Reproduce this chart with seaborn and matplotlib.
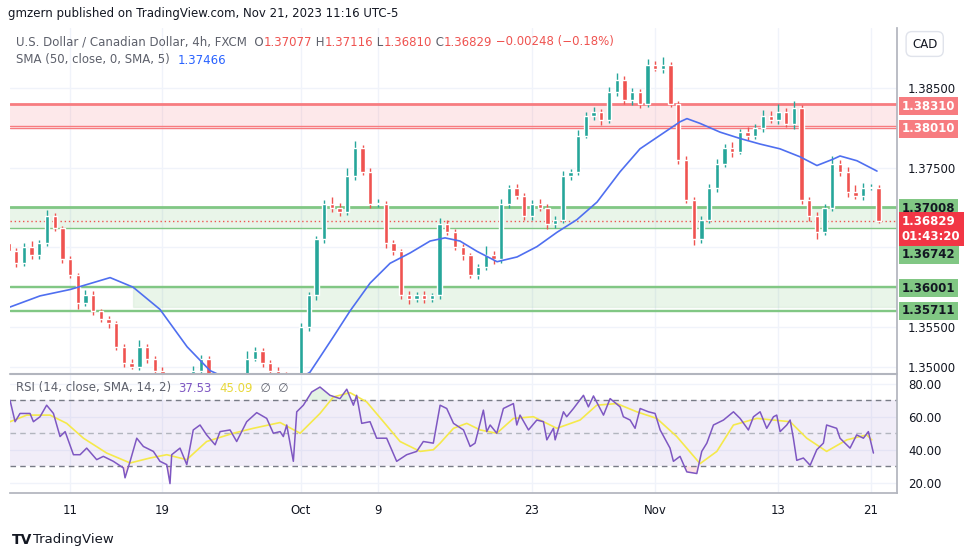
import numpy as np
import pandas as pd
import seaborn as sns
import matplotlib
matplotlib.use("Agg")
import matplotlib.pyplot as plt
from matplotlib.patches import Rectangle
from matplotlib.text import Annotation

# ---------------- data ----------------
# candle positions: trading-day index (Sep 11 = 0), two candles per day
candle_start = -4.0
closes = [1.3645,1.3630,1.3650,1.3640,1.3655,1.3690,1.3675,1.3635,1.3615,1.3580,
          1.3590,1.3570,1.3560,1.3555,1.3525,1.3505,1.3500,1.3525,1.3510,1.3495,
          1.3480,1.3470,1.3475,1.3480,1.3495,1.3510,1.3485,1.3470,1.3465,1.3475,
          1.3480,1.3510,1.3520,1.3505,1.3495,1.3490,1.3480,1.3485,1.3550,1.3590,
          1.3660,1.3705,1.3700,1.3695,1.3740,1.3775,1.3745,1.3705,1.3705,1.3655,
          1.3645,1.3590,1.3585,1.3590,1.3585,1.3590,1.3680,1.3670,1.3650,1.3640,
          1.3615,1.3625,1.3640,1.3635,1.3705,1.3725,1.3715,1.3690,1.3705,1.3700,
          1.3680,1.3685,1.3740,1.3745,1.3790,1.3815,1.3820,1.3810,1.3845,1.3860,
          1.3835,1.3845,1.3830,1.3880,1.3875,1.3880,1.3830,1.3760,1.3710,1.3660,
          1.3685,1.3725,1.3755,1.3775,1.3770,1.3795,1.3790,1.3800,1.3815,1.3810,
          1.3820,1.3805,1.3825,1.3710,1.3690,1.3670,1.3700,1.3755,1.3745,1.3720,
          1.3715,1.3725,1.3725,1.3683]
first_open = 1.3655
wick_up = [6,4,5,8,4,7,3,2,4,3, 6,5,3,4,3,4,5,8,4,3, 4,3,5,4,6,5,3,4,3,5,
           4,10,5,4,3,4,3,4,5,4, 4,5,8,6,10,9,4,5,6,3, 4,3,5,4,5,3,7,5,3,4,
           3,4,12,5,6,4,5,4,5,6, 4,5,6,4,8,5,6,4,7,10, 5,6,4,7,5,9,3,4,5,3,
           4,5,6,5,7,4,6,5,8,6, 10,5,9,4,3,4,5,10,5,6, 8,6,5,4]
wick_low = [4,5,3,4,5,3,4,4,3,8, 4,5,4,6,4,5,3,4,5,4, 3,4,3,5,4,3,5,4,3,4,
            5,4,3,5,4,3,4,3,4,5, 6,4,5,6,4,5,4,5,4,6, 4,5,6,4,5,4,5,4,3,6,
            4,5,3,6,4,5,4,6,5,4, 7,6,4,5,4,3,5,6,4,5, 4,6,5,4,3,5,4,5,4,7,
            5,4,5,4,6,3,5,4,5,4, 5,4,6,5,7,9,5,4,5,6, 4,5,3,2]

sma_days = [-3.9,-1.95,0,2.6,4.09,5.84,7.6,9.09,11.7,14.3,15.58,16.23,17.08,18.18,19.48,
            20.78,22.08,23.38,24.35,25.32,26.43,27.73,29.03,30.32,31.62,32.92,34.22,
            35.71,37.01,38.31,39.61,40.06,40.91,42.21,43.51,44.81,46.1,47.4,48.5,49.55,
            50.0,51.1,52.4]
sma_vals = [1.3575,1.3589,1.3597,1.3612,1.3600,1.3572,1.3525,1.3495,1.3472,1.3478,1.3493,
            1.3512,1.3537,1.3570,1.3605,1.3630,1.3643,1.3658,1.3662,1.3658,1.3645,1.3632,
            1.3638,1.3651,1.3669,1.3685,1.3707,1.3745,1.3774,1.3791,1.3808,1.3812,1.3806,
            1.3795,1.3787,1.3780,1.3774,1.3764,1.3753,1.3761,1.3765,1.3759,1.3746]

rsi_days = [-3.9,-3.57,-3.25,-2.6,-2.38,-1.95,-1.52,-1.08,-0.65,-0.32,0.22,0.65,1.08,1.73,
            2.16,2.81,3.46,3.57,3.9,4.33,4.76,5.41,5.84,6.28,6.49,6.6,7.14,7.58,8.0,8.44,
            8.87,9.42,9.74,10.39,10.82,11.47,12.12,12.77,13.2,13.64,13.85,14.07,14.5,14.72,
            15.15,15.69,16.23,16.88,17.53,17.97,18.4,18.61,18.94,19.48,19.91,20.56,21.21,
            21.86,22.51,22.94,23.59,24.03,24.46,24.9,25.55,25.98,26.3,26.84,27.06,27.28,
            27.71,28.14,28.79,29.01,29.22,29.77,30.31,30.74,30.96,31.39,31.5,32.04,32.25,
            32.69,33.34,33.66,33.99,34.64,35.07,35.72,35.93,36.37,36.69,37.02,37.56,37.99,
            38.32,38.96,39.18,39.61,40.05,40.7,41.02,41.35,41.78,42.43,43.08,43.51,44.05,
            44.38,44.81,45.24,45.68,45.89,46.11,46.54,46.76,46.97,47.19,47.62,48.06,48.49,
            48.92,49.13,49.78,50.0,50.65,51.08,51.52,51.84,52.17]
rsi_vals = [70,57,62,62,57,60,67,62,48,51,37,37,41,34,36,33,29,23,33,47,42,39,33,31,19.5,
            37,41,31,52,55,49,43,51,52,45,57,62.5,59,50,51,48,55,33,63,67,75,78,73,71,76.7,
            67,73,56,57,47,47,33,37,39,45,44,67,65,56,52,42,44,64,51,55,50,65,68,55,61,52,
            58,57,46,53,46,63,60,65,73,66,72.6,61,71,66,60,58,53,65,63,62,52,41,33,36,26.6,
            25.6,39,44,55,58,63,59,52,60,63,53,60,61,51,55,58,47,33.6,35,30.6,40,44,55,53,
            47,41,49,47,51,38]
rsima_days = [-3.9,-2.81,-1.3,-0.22,0.87,2.38,3.9,5.19,6.28,7.58,8.87,10.6,11.9,13.64,14.94,
              16.23,17.1,18.18,19.26,20.35,21.43,22.73,23.59,24.03,24.9,25.76,26.63,27.71,
              28.79,30.09,31.61,33.12,34.2,35.5,36.8,38.1,39.4,40.91,42.0,43.08,44.6,46.76,
              47.84,49.13,50.44,51.73,52.06]
rsima_vals = [57,61,61,56,47,38,32,35,37,34,45,50,53,56.5,50,62,72,74.6,69,57,45,39,40,44,
              53,56,52,50,59,60,53,58,67,68,63,59,48,31.6,39,55,59,57,47,39,46,49,46]

date_ticks = [0, 6, 15, 20, 30, 38, 46, 52]
date_labels = ["11", "19", "Oct", "9", "23", "Nov", "13", "21"]
price_ticks = [1.350, 1.355, 1.360, 1.365, 1.370, 1.375, 1.380, 1.385]
price_tick_labels = ["1.35000", "1.35500", "", "", "", "1.37500", "", "1.38500"]
rsi_ticks = [20, 40, 60, 80]

res_top, res_bot = 1.38310, 1.38010
sup_top, sup_bot = 1.37008, 1.36742
low_top, low_bot = 1.36001, 1.35711
box_start_day = 4.1
last_price = 1.36829

# ---------------- styling ----------------
UP, DOWN = "#26a69a", "#ef5350"
GRID = "#f0f3fa"
TXT = "#131722"
HDR = "#5d606b"
GRAY = "#787b86"
sns.set_theme(style="white")
plt.rcParams["font.family"] = "DejaVu Sans"

fig = plt.figure(figsize=(9.7, 5.57), dpi=100)
W, H = 970, 557
def fx(px): return px / W
def fy(py): return 1 - py / H

ax = fig.add_axes([fx(10), fy(373), fx(887), fy(28) - fy(373)])
axr = fig.add_axes([fx(10), fy(493), fx(887), fy(375) - fy(493)], sharex=ax)

n = len(closes)
days = candle_start + 0.5 * np.arange(n)
opens = [first_open] + closes[:-1]
df = pd.DataFrame({"day": days, "open": opens, "close": closes})
df["high"] = df[["open", "close"]].max(axis=1) + np.array(wick_up) * 1e-4
df["low"] = df[["open", "close"]].min(axis=1) - np.array(wick_low) * 1e-4
df["col"] = np.where(df["close"] >= df["open"], UP, DOWN)

xmin, xmax = -3.9, 53.7
ax.set_xlim(xmin, xmax)
ax.set_ylim(1.3492, 1.3926)

for t in date_ticks:
    ax.axvline(t, color=GRID, lw=1, zorder=0)
    axr.axvline(t, color=GRID, lw=1, zorder=0)
for p in price_ticks:
    ax.axhline(p, color=GRID, lw=1, zorder=0)

# zones
ax.axhspan(res_bot, res_top, color="#f7525f", alpha=0.13, lw=0, zorder=1)
ax.axhline(res_top, color="#f77c80", lw=2, zorder=2)
ax.axhline(res_bot + 0.00012, color="#f77c80", lw=1, zorder=2)
ax.axhline(res_bot - 0.00010, color="#f77c80", lw=1, zorder=2)
ax.axhspan(sup_bot, sup_top, color="#4caf50", alpha=0.12, lw=0, zorder=1)
ax.axhline(sup_top, color="#81c784", lw=2, zorder=2)
ax.axhline(sup_bot, color="#81c784", lw=1, zorder=2)
ax.axhline(low_top, color="#81c784", lw=1, zorder=2)
ax.axhline(low_top + 0.0001, color="#81c784", lw=1, zorder=2)
ax.axhline(low_bot, color="#81c784", lw=1, zorder=2)
ax.axhline(low_bot - 0.0001, color="#81c784", lw=1, zorder=2)
ax.add_patch(Rectangle((box_start_day, low_bot + 0.0004), xmax - box_start_day,
                       low_top - low_bot - 0.0004, facecolor="#4caf50", alpha=0.12,
                       edgecolor="#81c784", lw=1, zorder=1))
ax.axhline(last_price, color=DOWN, lw=1, ls=(0, (1, 2)), zorder=2)

# candles
ax.vlines(df["day"], df["low"], df["high"], colors=df["col"], lw=1, zorder=3)
ax.bar(df["day"], (df["close"] - df["open"]).abs().clip(lower=0.00008),
       bottom=df[["open", "close"]].min(axis=1), width=0.28, color=df["col"], zorder=4)

sma_df = pd.DataFrame({"day": sma_days, "sma": sma_vals})
sns.lineplot(data=sma_df, x="day", y="sma", ax=ax, color="#4f6ff0", lw=1.2, zorder=5)

ax.set_xlabel(""); ax.set_ylabel("")
ax.yaxis.tick_right()
ax.set_yticks(price_ticks)
ax.set_yticklabels(price_tick_labels, color=TXT, fontsize=8.5)
ax.tick_params(axis="y", length=0, pad=8)
ax.tick_params(axis="x", labelbottom=False, length=0)
for s in ["top", "left", "bottom"]:
    ax.spines[s].set_visible(False)
ax.spines["right"].set_color("#b2b5be")

# RSI pane
axr.set_ylim(13.8, 85.3)
for r in rsi_ticks:
    axr.axhline(r, color=GRID, lw=1, zorder=0)
axr.axhspan(30, 70, color="#7e57c2", alpha=0.1, lw=0, zorder=1)
axr.axhline(70, color=GRAY, lw=1, ls=(0, (4, 3)), zorder=2)
axr.axhline(30, color=GRAY, lw=1, ls=(0, (4, 3)), zorder=2)
axr.axhline(50, color="#b2b5be", lw=1, ls=(0, (4, 3)), zorder=2)
rd = np.array(rsi_days); rv = np.array(rsi_vals)
axr.fill_between(rd, 70, rv, where=rv > 70, interpolate=True, color="#4caf50", alpha=0.15, lw=0)
axr.fill_between(rd, 30, rv, where=rv < 30, interpolate=True, color="#f23645", alpha=0.15, lw=0)
rsi_df = pd.DataFrame({"day": rsi_days, "rsi": rsi_vals})
ma_df = pd.DataFrame({"day": rsima_days, "ma": rsima_vals})
sns.lineplot(data=ma_df, x="day", y="ma", ax=axr, color="#f5e94b", lw=1.2, zorder=3)
sns.lineplot(data=rsi_df, x="day", y="rsi", ax=axr, color="#7e57c2", lw=1.1, zorder=4)
axr.set_xlabel(""); axr.set_ylabel("")
axr.yaxis.tick_right()
axr.set_yticks(rsi_ticks)
axr.set_yticklabels([f"{v:.2f}" for v in rsi_ticks], color=TXT, fontsize=8.5)
axr.tick_params(axis="y", length=0, pad=8)
axr.set_xticks(date_ticks)
axr.set_xticklabels(date_labels, color=TXT, fontsize=8.5)
axr.tick_params(axis="x", length=0, pad=8)
for s in ["top", "left"]:
    axr.spines[s].set_visible(False)
axr.spines["right"].set_color("#b2b5be")
axr.spines["bottom"].set_color("#b2b5be")
fig.add_artist(plt.Line2D([fx(10), fx(897)], [fy(374), fy(374)], color="#b2b5be", lw=1.5))

# price badges
def badge(py, txt, fc, tc, sub=None):
    s = txt if sub is None else txt + "\n" + sub
    fig.text(fx(902), fy(py), s, fontsize=8.5, color=tc, weight="bold",
             va="center", ha="left", linespacing=1.15,
             bbox=dict(boxstyle="square,pad=0.25", fc=fc, ec="none"))
badge(106, "1.38310", "#f77c80", "white")
badge(129, "1.38010", "#f77c80", "white")
badge(208, "1.37008", "#81c784", TXT)
badge(229, "1.36829", "#f23645", "white", "01:43:20")
badge(255, "1.36742", "#81c784", TXT)
badge(288, "1.36001", "#81c784", TXT)
badge(311, "1.35711", "#81c784", TXT)
fig.text(fx(912), fy(44), "CAD", fontsize=8.5, color=TXT, va="center", ha="left",
         bbox=dict(boxstyle="round,pad=0.5", fc="white", ec="#e0e3eb"))

# header texts (chained pieces)
def chain(x0, y0, pieces, size=9):
    prev = fig.text(fx(x0), fy(y0), pieces[0][0], color=pieces[0][1], fontsize=size,
                    va="center", ha="left")
    for txt, col in pieces[1:]:
        prev = fig.add_artist(Annotation(txt, xy=(1, 0.5), xycoords=prev, va="center",
                                         ha="left", color=col, fontsize=size))
    return prev

chain(8, 14, [("gmzern published on TradingView.com, Nov 21, 2023 11:16 UTC-5", TXT)], size=8.5)
chain(16, 42, [("U.S. Dollar / Canadian Dollar, 4h, FXCM  O", HDR), ("1.37077", DOWN),
               (" H", HDR), ("1.37116", DOWN), (" L", HDR), ("1.36810", DOWN),
               (" C", HDR), ("1.36829", DOWN), (" \u22120.00248 (\u22120.18%)", DOWN)], size=8.5)
chain(16, 60, [("SMA (50, close, 0, SMA, 5)  ", HDR), ("1.37466", "#2962ff")], size=8.5)
chain(16, 388, [("RSI (14, close, SMA, 14, 2)  ", HDR), ("37.53", "#7e57c2"),
                ("  ", HDR), ("45.09", "#e8d83a"), ("  \u2205  \u2205", HDR)], size=8.5)
fig.text(fx(12), fy(540), "TV", fontsize=10, weight="bold", color=TXT, va="center", ha="left")
fig.text(fx(33), fy(540), "TradingView", fontsize=9.5, color=TXT, va="center", ha="left")

fig.savefig("out.png", dpi=100, facecolor="white")
